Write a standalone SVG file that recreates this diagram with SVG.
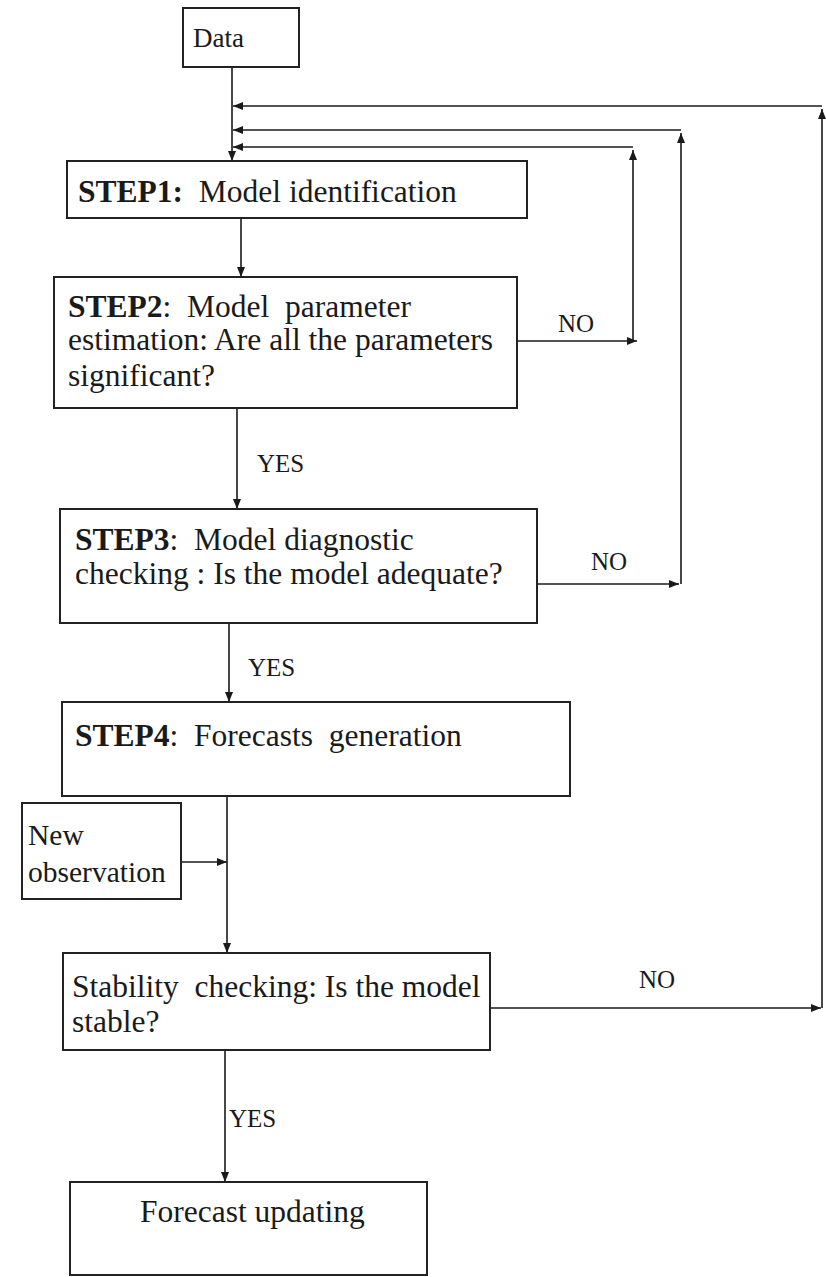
<svg xmlns="http://www.w3.org/2000/svg" width="826" height="1277" viewBox="0 0 826 1277">
<defs>
<marker id="ah" viewBox="0 0 10 8" refX="10" refY="4" markerWidth="10" markerHeight="8" markerUnits="userSpaceOnUse" orient="auto">
<path d="M0,0 L10,4 L0,8 z" fill="#1a1a1a"/>
</marker>
<style>
.box{fill:#fff;stroke:#222;stroke-width:2}
.t{font-family:"Liberation Serif","Times New Roman",serif;font-size:31.5px;fill:#1a1a1a;white-space:pre}
.b{font-weight:bold}
.s{font-family:"Liberation Serif","Times New Roman",serif;font-size:25px;fill:#1a1a1a}
.c{fill:none;stroke:#1a1a1a;stroke-width:1.6}
.a{fill:none;stroke:#1a1a1a;stroke-width:1.6;marker-end:url(#ah)}
</style>
</defs>
<rect width="826" height="1277" fill="#fff"/>
<g id="connectors">
<line class="a" x1="232" y1="67" x2="232" y2="161"/>
<line class="a" x1="822" y1="106" x2="233" y2="106"/>
<line class="a" x1="681" y1="130" x2="233" y2="130"/>
<line class="a" x1="633" y1="147" x2="233" y2="147"/>
<line class="a" x1="241" y1="218" x2="241" y2="277"/>
<line class="a" x1="517" y1="341" x2="637" y2="341"/>
<line class="a" x1="633" y1="341" x2="633" y2="150"/>
<line class="a" x1="237" y1="408" x2="237" y2="509"/>
<line class="a" x1="537" y1="584" x2="679" y2="584"/>
<line class="a" x1="681" y1="584" x2="681" y2="133"/>
<line class="a" x1="229" y1="623" x2="229" y2="702"/>
<line class="a" x1="227" y1="796" x2="227" y2="953"/>
<line class="a" x1="181" y1="862" x2="227" y2="862"/>
<line class="a" x1="490" y1="1008" x2="821" y2="1008"/>
<line class="a" x1="822" y1="1008" x2="822" y2="109"/>
<line class="a" x1="225" y1="1050" x2="225" y2="1182"/>
<text class="s" x="257" y="472">YES</text>
<text class="s" x="248" y="676">YES</text>
<text class="s" x="229" y="1127">YES</text>
<text class="s" x="558" y="332">NO</text>
<text class="s" x="591" y="570">NO</text>
<text class="s" x="639" y="988">NO</text>
</g>
<g id="data">
<rect class="box" x="183" y="8" width="116" height="59"/>
<text class="s" x="193" y="47" style="font-size:27px">Data</text>
</g>
<g id="step1">
<rect class="box" x="67" y="161" width="460" height="57"/>
<text class="t" x="78" y="202"><tspan class="b">STEP1:</tspan>  Model identification</text>
</g>
<g id="step2">
<rect class="box" x="54" y="277" width="463" height="131"/>
<text class="t" x="68" y="317"><tspan class="b">STEP2</tspan>:  Model  parameter</text>
<text class="t" x="68" y="350">estimation: Are all the parameters</text>
<text class="t" x="68" y="386">significant?</text>
</g>
<g id="step3">
<rect class="box" x="60" y="509" width="477" height="114"/>
<text class="t" x="75" y="550"><tspan class="b">STEP3</tspan>:  Model diagnostic</text>
<text class="t" x="75" y="584">checking : Is the model adequate?</text>
</g>
<g id="step4">
<rect class="box" x="62" y="702" width="508" height="94"/>
<text class="t" x="75" y="746"><tspan class="b">STEP4</tspan>:  Forecasts  generation</text>
</g>
<g id="newobs">
<rect class="box" x="22" y="803" width="159" height="96"/>
<text class="t" x="28" y="845" style="font-size:29.5px">New</text>
<text class="t" x="28" y="882" style="font-size:29.5px">observation</text>
</g>
<g id="stability">
<rect class="box" x="63" y="953" width="427" height="97"/>
<text class="t" x="72" y="997">Stability  checking: Is the model</text>
<text class="t" x="72" y="1032">stable?</text>
</g>
<g id="update">
<rect class="box" x="70" y="1182" width="357" height="93"/>
<text class="t" x="140" y="1222">Forecast updating</text>
</g>
</svg>
